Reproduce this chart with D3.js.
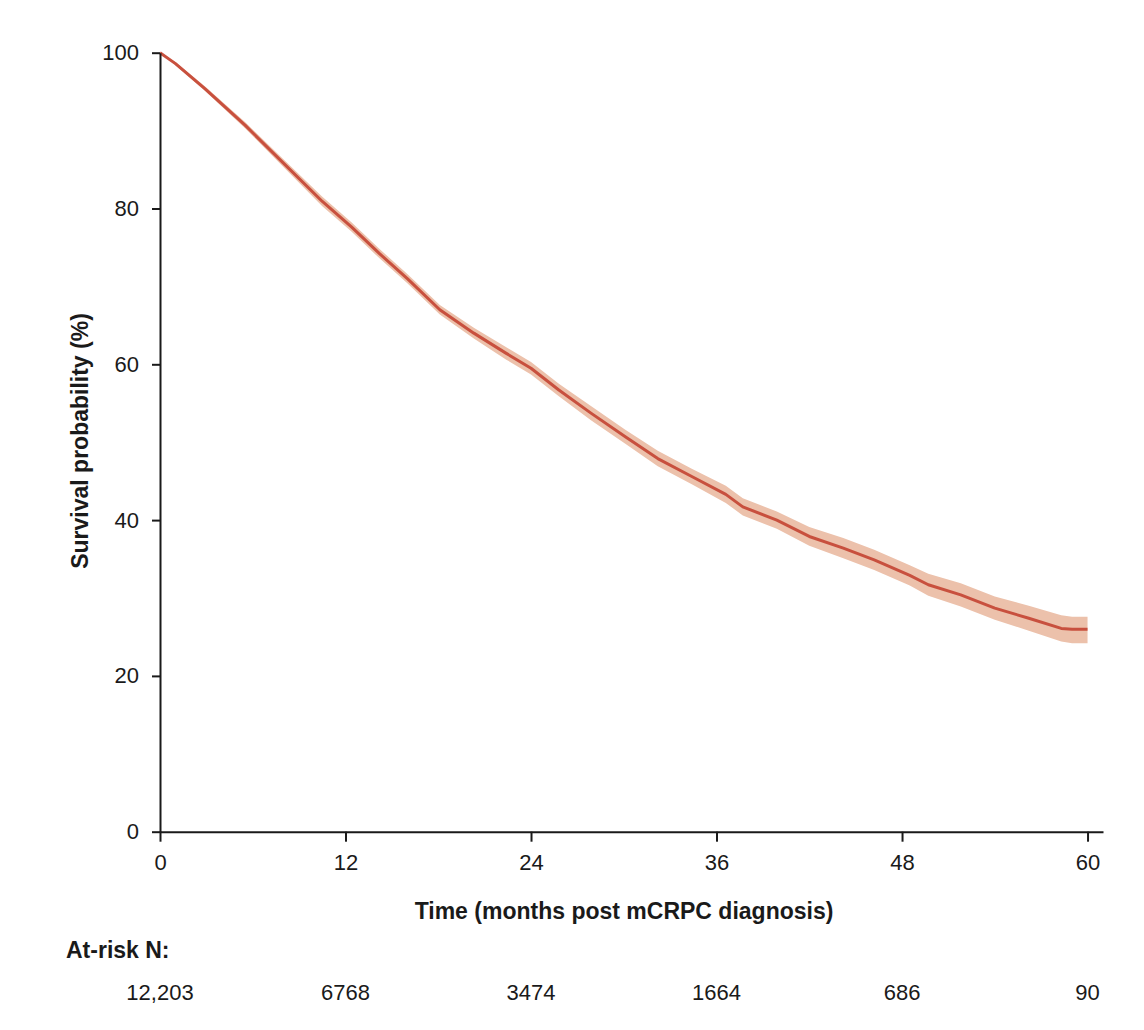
<!DOCTYPE html>
<html>
    <head>
        <title>mCRPC Survival</title>
        <script src="https://d3js.org/d3.v7.min.js"></script>
        <style>
            body {
                margin: 0;
                background: #fff;
            }
            text {
                font-family: 'Liberation Sans', Arial, sans-serif;
                fill: #1a1a1a;
            }
        </style>
    </head>
    <body>
        <div id="chart"></div>
        <script>
            // Kaplan-Meier estimate (months, %)
            var months = [0, 1, 2.9, 5.5, 8.1, 10.5, 12.4, 14.2, 16, 18.1, 20.3, 22.4, 24, 25.8, 27.9, 30.1, 32.2, 34.4, 36.6, 37.7, 39.9, 42, 44.2, 46.2, 48.5, 49.7, 51.8, 54, 56.2, 58.3, 59, 60];
            var survival = [100, 98.6, 95.4, 90.7, 85.6, 80.9, 77.6, 74.2, 71.0, 67.0, 64.0, 61.4, 59.5, 56.7, 53.7, 50.7, 47.9, 45.6, 43.3, 41.7, 40.0, 37.9, 36.4, 34.9, 32.9, 31.7, 30.4, 28.7, 27.4, 26.1, 26.0, 26.0];
            var lower = [100, 98.4, 95.1, 90.3, 85.1, 80.3, 77.0, 73.6, 70.4, 66.4, 63.3, 60.6, 58.7, 55.9, 52.8, 49.8, 46.9, 44.6, 42.2, 40.6, 38.9, 36.7, 35.1, 33.6, 31.6, 30.3, 28.9, 27.2, 25.8, 24.4, 24.2, 24.2];
            var upper = [100, 98.8, 95.7, 91.1, 86.1, 81.5, 78.2, 74.8, 71.6, 67.6, 64.7, 62.2, 60.3, 57.5, 54.6, 51.6, 48.9, 46.6, 44.4, 42.8, 41.1, 39.1, 37.7, 36.2, 34.2, 33.1, 31.9, 30.2, 29.0, 27.8, 27.6, 27.6];

            var xTicks = [0, 12, 24, 36, 48, 60];
            var yTicks = [0, 20, 40, 60, 80, 100];
            var atRisk = ['12,203', '6768', '3474', '1664', '686', '90'];

            var width = 1144,
                height = 1030;

            var data = months.map(function (m, i) {
                return { m: m, s: survival[i], lo: lower[i], hi: upper[i] };
            });

            var svg = d3.select('#chart').append('svg').attr('width', width).attr('height', height);

            var x = d3.scaleLinear().domain([0, 61]).range([160, 1103]);
            var y = d3.scaleLinear().domain([0, 100]).range([831.7, 52.7]);

            // confidence band
            svg.append('path')
                .datum(data)
                .attr('fill', '#ecc1ab')
                .attr(
                    'd',
                    d3
                        .area()
                        .x((d) => x(d.m))
                        .y0((d) => y(d.lo))
                        .y1((d) => y(d.hi))
                );

            svg.append('path')
                .datum(data)
                .attr('fill', 'none')
                .attr('stroke', '#c8503e')
                .attr('stroke-width', 3)
                .attr('stroke-linejoin', 'round')
                .attr(
                    'd',
                    d3
                        .line()
                        .x((d) => x(d.m))
                        .y((d) => y(d.s))
                );

            var xAxis = svg
                .append('g')
                .attr('transform', 'translate(0,' + y(0) + ')')
                .call(d3.axisBottom(x).tickValues(xTicks).tickSize(10).tickSizeOuter(0).tickPadding(13));

            var yAxis = svg
                .append('g')
                .attr('transform', 'translate(' + x(0) + ',0)')
                .call(d3.axisLeft(y).tickValues(yTicks).tickSize(8).tickSizeOuter(0).tickPadding(13));

            [xAxis, yAxis].forEach(function (g) {
                g.selectAll('path, line').attr('stroke', '#1a1a1a').attr('stroke-width', 2);
                g.selectAll('text').style('font-size', '22px').attr('fill', '#1a1a1a');
            });

            svg.append('text')
                .attr('x', 624)
                .attr('y', 919)
                .attr('text-anchor', 'middle')
                .style('font-size', '23px')
                .style('font-weight', 'bold')
                .text('Time (months post mCRPC diagnosis)');

            svg.append('text')
                .attr('transform', 'translate(88,441) rotate(-90)')
                .attr('text-anchor', 'middle')
                .style('font-size', '23px')
                .style('font-weight', 'bold')
                .text('Survival probability (%)');

            svg.append('text')
                .attr('x', 66)
                .attr('y', 958)
                .style('font-size', '23px')
                .style('font-weight', 'bold')
                .text('At-risk N:');

            svg.selectAll('.risk')
                .data(atRisk)
                .enter()
                .append('text')
                .attr('class', 'risk')
                .attr('x', (d, i) => x(xTicks[i]))
                .attr('y', 1000)
                .attr('text-anchor', 'middle')
                .style('font-size', '22px')
                .text((d) => d);
        </script>
    </body>
</html>
